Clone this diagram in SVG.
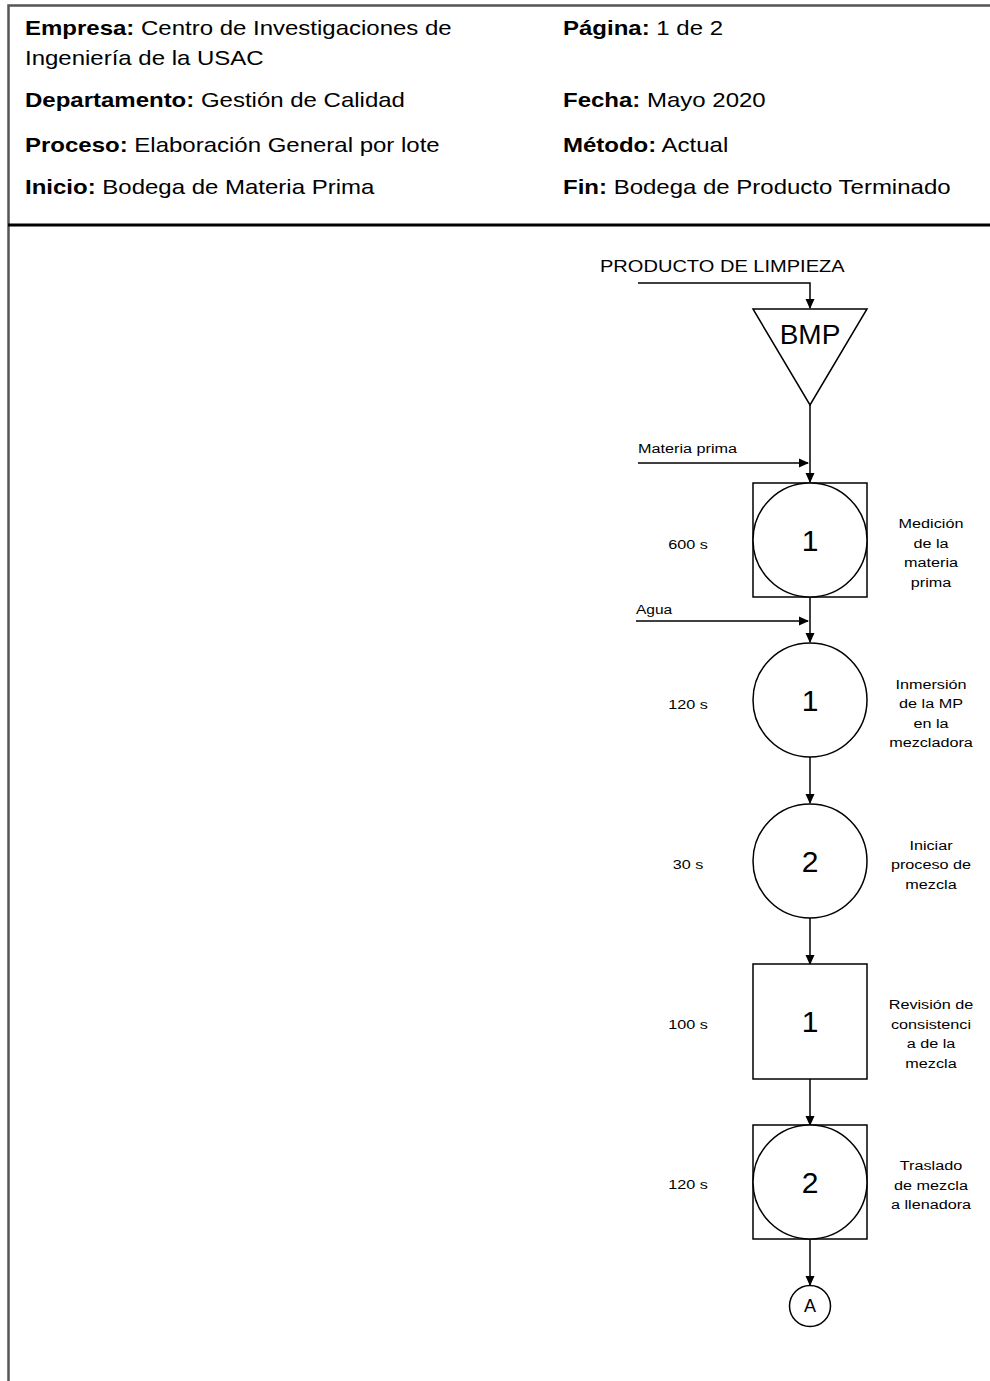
<svg xmlns="http://www.w3.org/2000/svg" width="990" height="1381" viewBox="0 0 990 1381">
<style>
  .hd { font-family: "Liberation Sans", Arial, sans-serif; font-size: 20px; fill: #000; }
  .hd .b { font-weight: bold; }
  .sm { font-family: "Liberation Sans", Arial, sans-serif; font-size: 13.5px; fill: #000; }
  .lb { font-family: "Liberation Sans", Arial, sans-serif; font-size: 13.5px; fill: #000; text-anchor: middle; }
  .num { font-family: "Liberation Sans", Arial, sans-serif; font-size: 30px; fill: #000; text-anchor: middle; }
  .shape { fill: #fff; stroke: #000; stroke-width: 1.5; }
  .conn { fill: none; stroke: #000; stroke-width: 1.5; }
</style>
<defs>
  <marker id="arr" viewBox="0 0 10 10" refX="9" refY="5" markerWidth="10" markerHeight="10" markerUnits="userSpaceOnUse" orient="auto">
    <path d="M0,0.5 L10,5 L0,9.5 Z" fill="#000"/>
  </marker>
</defs>
<rect x="0" y="0" width="990" height="1381" fill="#fff"/>
<g id="header">
  <path d="M8.5,1381 V5.5 H990" fill="none" stroke="#555" stroke-width="2.5"/>
  <line x1="8" y1="225" x2="990" y2="225" stroke="#000" stroke-width="3"/>
  <g transform="translate(25,0) scale(1.2,1)">
    <text class="hd" x="0" y="35"><tspan class="b">Empresa:</tspan> Centro de Investigaciones de</text>
    <text class="hd" x="0" y="65">Ingeniería de la USAC</text>
    <text class="hd" x="0" y="107"><tspan class="b">Departamento:</tspan> Gestión de Calidad</text>
    <text class="hd" x="0" y="152"><tspan class="b">Proceso:</tspan> Elaboración General por lote</text>
    <text class="hd" x="0" y="194"><tspan class="b">Inicio:</tspan> Bodega de Materia Prima</text>
  </g>
  <g transform="translate(563,0) scale(1.2,1)">
    <text class="hd" x="0" y="35"><tspan class="b">Página:</tspan> 1 de 2</text>
    <text class="hd" x="0" y="107"><tspan class="b">Fecha:</tspan> Mayo 2020</text>
    <text class="hd" x="0" y="152"><tspan class="b">Método:</tspan> Actual</text>
    <text class="hd" x="0" y="194"><tspan class="b">Fin:</tspan> Bodega de Producto Terminado</text>
  </g>
</g>
<g id="connectors">
  <path class="conn" d="M638,283 H810 V308" marker-end="url(#arr)"/>
  <path class="conn" d="M810,405 V482" marker-end="url(#arr)"/>
  <path class="conn" d="M638,463 H808" marker-end="url(#arr)"/>
  <path class="conn" d="M810,597 V642" marker-end="url(#arr)"/>
  <path class="conn" d="M636,621 H808" marker-end="url(#arr)"/>
  <path class="conn" d="M810,757 V803" marker-end="url(#arr)"/>
  <path class="conn" d="M810,918 V964" marker-end="url(#arr)"/>
  <path class="conn" d="M810,1079 V1125" marker-end="url(#arr)"/>
  <path class="conn" d="M810,1239 V1285" marker-end="url(#arr)"/>
</g>
<g id="input-producto" transform="translate(600,0) scale(1.18,1)">
  <text x="0" y="272" font-family="Liberation Sans, Arial, sans-serif" font-size="17" fill="#000">PRODUCTO DE LIMPIEZA</text>
</g>
<g id="input-materia" transform="translate(638,0) scale(1.2,1)">
  <text class="sm" x="0" y="453">Materia prima</text>
</g>
<g id="input-agua" transform="translate(636,0) scale(1.15,1)">
  <text class="sm" x="0" y="614">Agua</text>
</g>
<g id="bmp">
  <polygon class="shape" points="753,309 867,309 810,405"/>
  <text x="810" y="344" font-family="Liberation Sans, Arial, sans-serif" font-size="28" text-anchor="middle" fill="#000">BMP</text>
</g>
<g id="op-insp-1">
  <rect class="shape" x="753" y="483" width="114" height="114"/>
  <circle class="shape" cx="810" cy="540" r="57"/>
  <text class="num" x="810" y="551">1</text>
  <g transform="translate(688,0) scale(1.2,1)"><text class="lb" x="0" y="549">600 s</text></g>
  <g transform="translate(931,0) scale(1.2,1)">
    <text class="lb" x="0" y="528">Medición</text>
    <text class="lb" x="0" y="548">de la</text>
    <text class="lb" x="0" y="567">materia</text>
    <text class="lb" x="0" y="587">prima</text>
  </g>
</g>
<g id="op-1">
  <circle class="shape" cx="810" cy="700" r="57"/>
  <text class="num" x="810" y="711">1</text>
  <g transform="translate(688,0) scale(1.2,1)"><text class="lb" x="0" y="709">120 s</text></g>
  <g transform="translate(931,0) scale(1.2,1)">
    <text class="lb" x="0" y="689">Inmersión</text>
    <text class="lb" x="0" y="708">de la MP</text>
    <text class="lb" x="0" y="728">en la</text>
    <text class="lb" x="0" y="747">mezcladora</text>
  </g>
</g>
<g id="op-2">
  <circle class="shape" cx="810" cy="861" r="57"/>
  <text class="num" x="810" y="872">2</text>
  <g transform="translate(688,0) scale(1.2,1)"><text class="lb" x="0" y="869">30 s</text></g>
  <g transform="translate(931,0) scale(1.2,1)">
    <text class="lb" x="0" y="850">Iniciar</text>
    <text class="lb" x="0" y="869">proceso de</text>
    <text class="lb" x="0" y="889">mezcla</text>
  </g>
</g>
<g id="insp-1">
  <rect class="shape" x="753" y="964" width="114" height="115"/>
  <text class="num" x="810" y="1032">1</text>
  <g transform="translate(688,0) scale(1.2,1)"><text class="lb" x="0" y="1029">100 s</text></g>
  <g transform="translate(931,0) scale(1.2,1)">
    <text class="lb" x="0" y="1009">Revisión de</text>
    <text class="lb" x="0" y="1029">consistenci</text>
    <text class="lb" x="0" y="1048">a de la</text>
    <text class="lb" x="0" y="1068">mezcla</text>
  </g>
</g>
<g id="op-insp-2">
  <rect class="shape" x="753" y="1125" width="114" height="114"/>
  <circle class="shape" cx="810" cy="1182" r="57"/>
  <text class="num" x="810" y="1193">2</text>
  <g transform="translate(688,0) scale(1.2,1)"><text class="lb" x="0" y="1189">120 s</text></g>
  <g transform="translate(931,0) scale(1.2,1)">
    <text class="lb" x="0" y="1170">Traslado</text>
    <text class="lb" x="0" y="1190">de mezcla</text>
    <text class="lb" x="0" y="1209">a llenadora</text>
  </g>
</g>
<g id="connector-A">
  <circle class="shape" cx="810" cy="1306" r="20.5"/>
  <text x="810" y="1312" font-family="Liberation Sans, Arial, sans-serif" font-size="18" text-anchor="middle" fill="#000">A</text>
</g>
</svg>
